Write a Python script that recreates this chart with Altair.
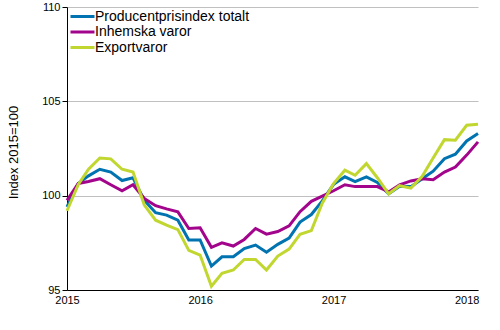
import altair as alt
import pandas as pd

series_names = ["Producentprisindex totalt", "Inhemska varor", "Exportvaror"]
colors = ["#0073b0", "#a3048c", "#c1d72f"]

total = [99.4, 100.65, 101.05, 101.4, 101.25, 100.8, 100.95, 99.75, 99.1, 98.97, 98.7, 97.65,
         97.65, 96.27, 96.76, 96.76, 97.2, 97.38, 97.0, 97.42, 97.75, 98.6, 99.0, 99.72,
         100.6, 101.0, 100.75, 101.0, 100.7, 100.1, 100.5, 100.48, 100.9, 101.3, 101.96, 102.2,
         102.9, 103.29]
inhemska = [99.75, 100.65, 100.75, 100.9, 100.58, 100.26, 100.58, 99.85, 99.47, 99.3, 99.14, 98.26,
            98.3, 97.26, 97.5, 97.33, 97.68, 98.26, 97.96, 98.1, 98.4, 99.15, 99.7, 99.98,
            100.26, 100.58, 100.48, 100.48, 100.48, 100.2, 100.57, 100.78, 100.89, 100.85, 101.25, 101.52,
            102.15, 102.85]
export = [99.2, 100.6, 101.4, 102.0, 101.95, 101.4, 101.25, 99.5, 98.7, 98.44, 98.2, 97.1,
          96.85, 95.2, 95.88, 96.06, 96.62, 96.62, 96.06, 96.8, 97.17, 97.95, 98.15, 99.6,
          100.64, 101.35, 101.08, 101.7, 100.95, 100.1, 100.53, 100.4, 101.03, 102.0, 102.97, 102.94,
          103.73, 103.78]

months = pd.date_range("2015-01-01", periods=len(total), freq="MS")
year_ticks = [2015, 2016, 2017, 2018]
y_ticks = [95, 100, 105, 110]

rows = []
for order, (name, vals) in enumerate(zip(series_names, [total, inhemska, export])):
    for m, v in zip(months, vals):
        rows.append({"month": m, "value": v, "series": name, "ord": order})
df = pd.DataFrame(rows)

chart = alt.Chart(df).mark_line(strokeWidth=3, strokeJoin="miter").encode(
    x=alt.X(
        "month:T",
        title=None,
        scale=alt.Scale(domain=[alt.DateTime(year=2015, month=1, date=1),
                                alt.DateTime(year=2018, month=2, date=1)]),
        axis=alt.Axis(values=[alt.DateTime(year=y, month=1, date=1) for y in year_ticks],
                      format="%Y", grid=False, ticks=False, labelFlush=False,
                      labelPadding=4, domainColor="black"),
    ),
    y=alt.Y(
        "value:Q",
        title="Index 2015=100",
        scale=alt.Scale(domain=[95, 110], nice=False, zero=False),
        axis=alt.Axis(values=y_ticks, grid=True, gridColor="#c0c0c0", tickSize=5,
                      tickColor="black", domainColor="black", labelPadding=2,
                      titlePadding=21, titleY=145),
    ),
    color=alt.Color(
        "series:N",
        scale=alt.Scale(domain=series_names, range=colors),
        legend=alt.Legend(
            title=None, orient="none", legendX=8, legendY=2,
            symbolType="M-2,0H2", symbolSize=144, symbolStrokeWidth=3,
            labelFontSize=14, labelColor="black", rowPadding=0.5, labelOffset=5,
        ),
    ),
    order=alt.Order("ord:Q"),
).properties(
    width=411,
    height=283,
    padding={"left": 67, "top": 7, "right": 22, "bottom": 40},
    autosize=alt.AutoSizeParams(type="none"),
).configure_view(stroke=None).configure_axis(
    labelFont="Liberation Sans", titleFont="Liberation Sans", labelFontSize=11,
    titleFontSize=13, titleFontWeight="normal", labelColor="black", titleColor="black",
).configure_legend(labelFont="Liberation Sans")

chart.save("out.html", embed_options={"renderer": "svg", "actions": False})
